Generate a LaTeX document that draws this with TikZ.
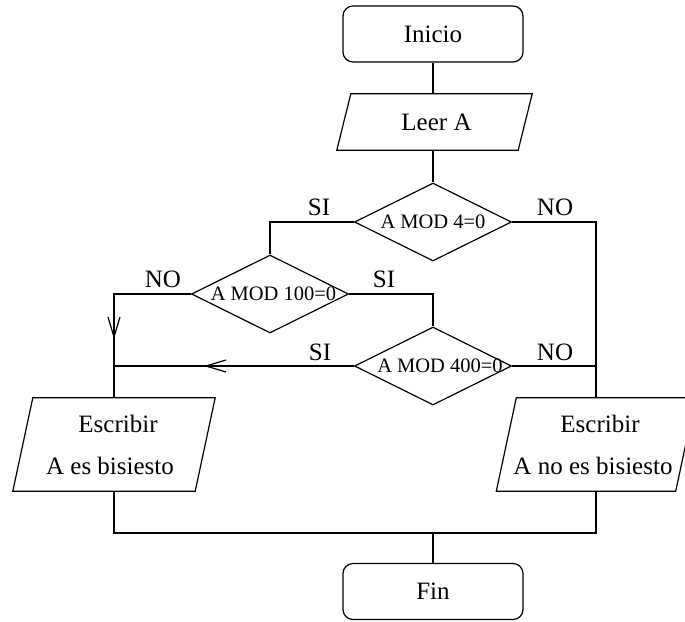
\documentclass[tikz,border=0pt]{standalone}
\usepackage{fontspec}
\setmainfont{Liberation Serif}
\usetikzlibrary{shapes.geometric,arrows.meta,decorations.markings}
% slanted input/output frame around a rectangular node: #1 node, #2 half slant
\newcommand\ioframe[2]{%
  \draw[line] ([xshift=#2]#1.north west) -- ([xshift=#2]#1.north east)
    -- ([xshift=-#2]#1.south east) -- ([xshift=-#2]#1.south west) -- cycle;}
\begin{document}
\begin{tikzpicture}[x=1pt,y=-1pt,
  every node/.style={font=\fontsize{25}{30}\selectfont},
  line/.style={line width=1.2pt},
  terminal/.style={draw, line width=1.2pt, rounded corners=10pt,
    minimum width=180pt, minimum height=56pt, inner sep=0pt},
  io/.style={inner sep=0pt, align=center},
  decision/.style={draw, line width=1.2pt, diamond, aspect=2,
    minimum width=157pt, minimum height=78pt, inner sep=0pt,
    font=\fontsize{20.5}{24}\selectfont},
  tag/.style={anchor=base},
  midarrow/.style={postaction={decorate}, decoration={markings,
    mark=at position #1 with {\arrow{Straight Barb[length=20pt,width=12pt]}}}},
]
\useasboundingbox (0,0) rectangle (685,621);

% blocks
\node[terminal] (ini) at (433,34) {Inicio};
\node[io, minimum width=181pt, minimum height=56pt] (leer) at (434.5,122)
  {\hspace*{4pt}Leer A};
\ioframe{leer}{7pt}
\node[decision] (d1) at (433,222) {A MOD 4=0};
\node[decision] (d2) at (270,294) {\hspace*{7pt}\makebox[0pt]{A MOD 100=0}};
\node[decision] (d3) at (433,366) {\hspace*{14pt}\makebox[0pt]{A MOD 400=0}};
\node[io, minimum width=182pt, minimum height=93pt] (p1) at (114,444.5)
  {\hspace*{8pt}Escribir\\[12pt]A es bisiesto\hspace*{8pt}};
\ioframe{p1}{10pt}
\node[io, minimum width=179pt, minimum height=93pt] (p2) at (596,444.5)
  {\hspace*{8pt}Escribir\\[12pt]A no es bisiesto\hspace*{6pt}};
\ioframe{p2}{10pt}
\node[terminal] (fin) at (433,591.5) {Fin};

% branch labels
\node[tag] (l1) at (319,215) {SI};
\node[tag] (l2) at (555,215) {NO};
\node[tag] (l3) at (163,287) {NO};
\node[tag] (l4) at (384,287) {SI};
\node[tag] (l5) at (320,360) {SI};
\node[tag] (l6) at (555,360) {NO};

% connectors
\draw[line] (ini.south) -- (ini.south |- leer.north);
\draw[line] (d1.north |- leer.south) -- (d1.north);
\draw[line] (d1.west) -| (d2.north);
\draw[line] (d1.east) -| (p2.north);
\draw[line, midarrow=122pt] (d2.west) -| (p1.north);
\draw[line] (d2.east) -| (d3.north);
\draw[line, midarrow=150pt] (d3.west) -- (d3.west -| p1.north);
\draw[line] (d3.east) -- (d3.east -| p2.north);
\coordinate (jn) at (fin.north |- 0,533);
\draw[line] (p1.south) |- (jn) -| (p2.south);
\draw[line] (jn) -- (fin.north);
\end{tikzpicture}
\end{document}
